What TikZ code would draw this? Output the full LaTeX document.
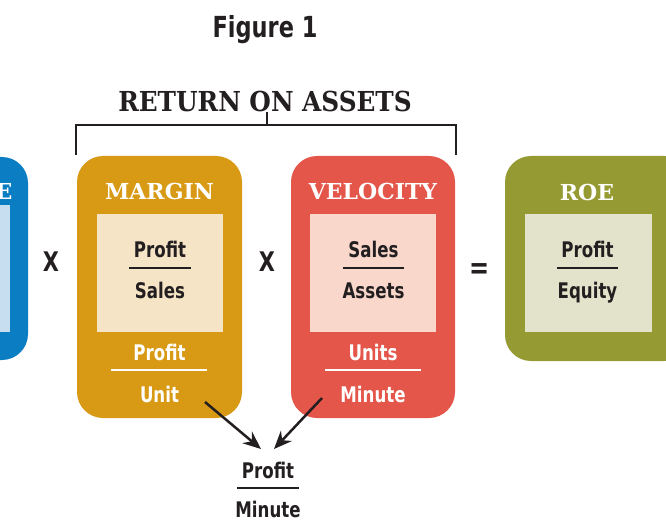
\documentclass[tikz,border=0pt]{standalone}
\usepackage{fontspec}
\usetikzlibrary{arrows.meta}
\setmainfont{DejaVu Sans Condensed}[FakeStretch=0.86]
\newfontfamily\slab{DejaVu Serif}
\newfontfamily\slabc{DejaVu Serif Condensed}
\definecolor{ink}{HTML}{231F20}
\definecolor{cblue}{HTML}{0A7DC3}
\definecolor{cblueL}{HTML}{C7DDF0}
\definecolor{corange}{HTML}{D89A14}
\definecolor{corangeL}{HTML}{F5E4C6}
\definecolor{cred}{HTML}{E4554A}
\definecolor{credL}{HTML}{F9D7CB}
\definecolor{colive}{HTML}{969A32}
\definecolor{coliveL}{HTML}{E3E3CB}
\begin{document}
\begin{tikzpicture}[x=1pt,y=-1pt,
  box/.style={rounded corners=26pt, draw=none},
  head/.style={anchor=base, font=\slab\bfseries\fontsize{22}{22}\selectfont, text=white, inner sep=0pt},
  frac/.style={anchor=base, font=\bfseries\fontsize{21.5}{21.5}\selectfont, text=ink, inner sep=0pt},
  wfrac/.style={frac, text=white},
  bar/.style={line width=2.5pt, draw=ink},
  wbar/.style={line width=2.5pt, draw=white},
  op/.style={anchor=base, font=\bfseries\fontsize{27}{27}\selectfont, text=ink, inner sep=0pt},
  arr/.style={line width=2.5pt, draw=ink, -{Stealth[length=18pt,width=15pt,inset=6pt]}}]
\useasboundingbox (0,0) rectangle (666,521);
\clip (0,0) rectangle (666,521);

% title
\node[anchor=base, font=\bfseries\fontsize{29}{29}\selectfont, text=ink, inner sep=0pt] (fig) at (265,38) {Figure 1};
\node[anchor=base, font=\slabc\bfseries\fontsize{27.5}{27.5}\selectfont, text=ink, inner sep=0pt] (roa) at (265,112) {RETURN ON ASSETS};
\coordinate (bl) at (76,155);
\coordinate (br) at (456,155);
\coordinate (bt) at (267,112);
\draw[line width=2.5pt, ink] (bl) |- (bt |- 0,125) -| (br);
\draw[line width=2.5pt, ink] (bt) -- (bt |- 0,125);

% blue box (partly off the page)
\fill[cblue, box] (-150,157) rectangle (28,360);
\fill[cblueL] (-150,205) rectangle (9.5,332);
\node[head, anchor=base east] (eh) at (12.5,200) {E};

\node[op] (x1) at (51,272) {X};

% margin
\fill[corange, box] (77,156) rectangle (242,418);
\fill[corangeL] (97,214) rectangle (223,332);
\node[head] (mh) at (159.5,200) {MARGIN};
\node[frac] (mp) at (160,258) {Profit};
\draw[bar] (129,268) -- (191,268);
\node[frac] (ms) at (160,298) {Sales};
\node[wfrac] (mp2) at (159.5,360) {Profit};
\draw[wbar] (111,370) -- (207,370);
\node[wfrac] (mu) at (159.5,402) {Unit};

\node[op] (x2) at (267,272) {X};

% velocity
\fill[cred, box] (291,156) rectangle (455,418);
\fill[credL] (310,214) rectangle (436,332);
\node[head] (vh) at (373,200) {VELOCITY};
\node[frac] (vs) at (373.5,258) {Sales};
\draw[bar] (343,268) -- (404,268);
\node[frac] (va) at (373.5,298) {Assets};
\node[wfrac] (vu) at (373,360) {Units};
\draw[wbar] (325,370) -- (421,370);
\node[wfrac] (vm) at (373,402) {Minute};

\node[op, font=\bfseries\fontsize{31}{31}\selectfont] (eq) at (480,278) {=};

% ROE
\fill[colive, box] (505,156) rectangle (690,361);
\fill[coliveL] (525,214) rectangle (652,332);
\node[head] (rh) at (587,201) {ROE};
\node[frac] (rp) at (587.5,258) {Profit};
\draw[bar] (557,268) -- (618,268);
\node[frac] (re) at (587.5,298) {Equity};

% bottom fraction
\node[frac] (bp) at (268,478) {Profit};
\draw[bar] (237,488) -- (299,488);
\node[frac] (bm) at (268,517) {Minute};

\coordinate (a1) at (205,402);
\coordinate (a1e) at (261,449);
\coordinate (a2) at (322,398);
\coordinate (a2e) at (274,449);
\draw[arr] (a1) -- (a1e);
\draw[arr] (a2) -- (a2e);
\end{tikzpicture}
\end{document}
